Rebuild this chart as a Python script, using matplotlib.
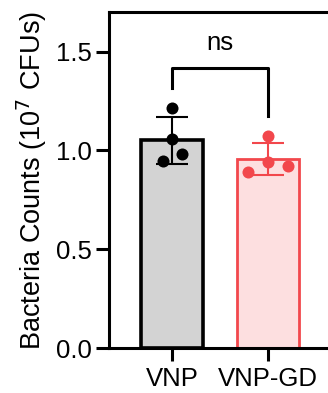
import numpy as np
import matplotlib.pyplot as plt

plt.rcParams['font.family'] = ['Liberation Sans', 'DejaVu Sans']

groups = ['VNP', 'VNP-GD']
vnp_points = [1.215, 1.057, 0.947, 0.984]
vnpgd_points = [1.074, 0.939, 0.893, 0.922]
vnp_jitter = [0.0, 0.0, -0.1, 0.1]
vnpgd_jitter = [0.0, 0.0, -0.21, 0.21]

edge_colors = ['black', '#f2474c']
fill_colors = ['#d3d3d3', '#fddfe0']

fig = plt.figure(figsize=(3.28, 3.93), dpi=100)
ax = fig.add_axes([109/328, 45/393, 226/328, 336/393])

all_points = [vnp_points, vnpgd_points]
all_jitter = [vnp_jitter, vnpgd_jitter]
for i, pts in enumerate(all_points):
    m = np.mean(pts)
    sd = np.std(pts, ddof=1)
    ax.bar(i, m, width=0.65, color=fill_colors[i], edgecolor=edge_colors[i],
           linewidth=2.6 if i == 0 else 2.0, zorder=1)
    ax.errorbar(i, m, yerr=sd, color=edge_colors[i], capsize=11.5, capthick=1.5,
                elinewidth=1.5, zorder=2)
    ax.scatter(np.array(all_jitter[i]) + i, pts, s=75, color=edge_colors[i],
               zorder=3, linewidths=0)

# significance bracket
ax.plot([0, 0, 1, 1], [1.314, 1.416, 1.416, 1.172], color='black', lw=2.2,
        clip_on=False)
ax.text(0.5, 1.48, 'ns', ha='center', va='bottom', fontsize=18.5)

ax.set_xlim(-0.66, 1.7)
ax.set_ylim(0, 1.7)
ax.set_yticks([0.0, 0.5, 1.0, 1.5])
ax.set_xticks([0, 1])
ax.set_xticklabels(groups)
ax.tick_params(labelsize=18.5, width=2.2, length=9.5)
ax.tick_params(axis='x', pad=4)
ax.tick_params(axis='y', pad=3)
for s in ax.spines.values():
    s.set_linewidth(2.2)
ax.set_ylabel('Bacteria Counts (10$^7$ CFUs)', fontsize=19.5, labelpad=5)

plt.savefig('out.png', dpi=100)
